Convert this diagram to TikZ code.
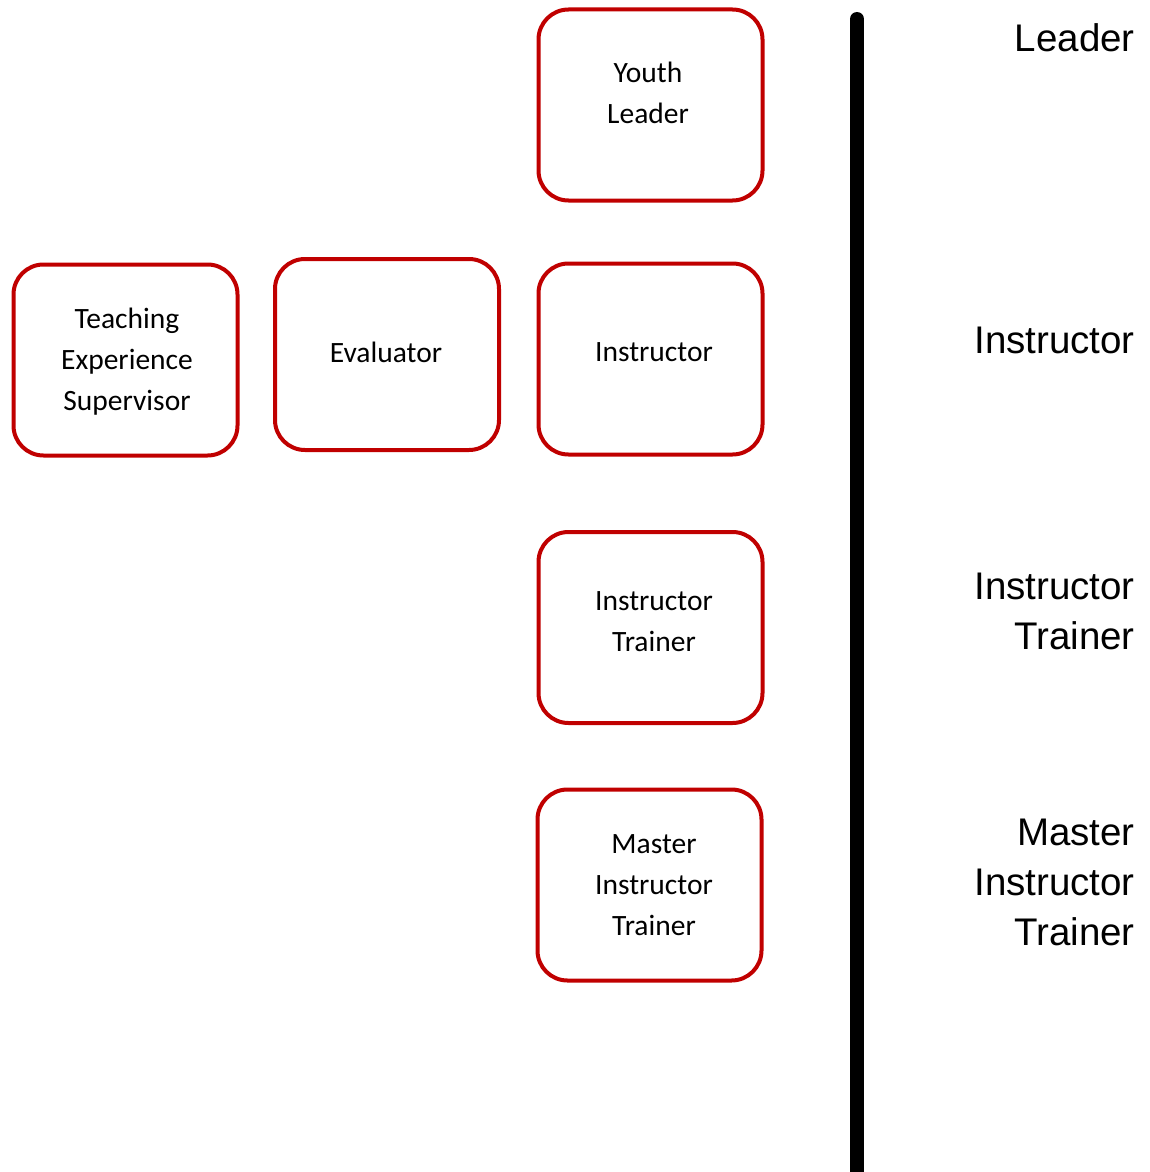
\documentclass[tikz,border=0pt]{standalone}
\usepackage{fontspec}
\setmainfont{Carlito}
\newfontfamily\labfont{Liberation Sans}
\definecolor{boxred}{RGB}{192,0,0}
\begin{document}
\begin{tikzpicture}[x=1pt,y=-1pt,
  box/.style={draw=boxred,line width=4pt,rounded corners=30pt,minimum width=224pt,minimum height=191pt,inner sep=0pt,fill=white},
  boxtxt/.style={align=center,font=\fontsize{29.5}{41}\selectfont,inner sep=0pt},
  sidelab/.style={align=right,anchor=east,font=\labfont\fontsize{38.5}{50}\selectfont,inner sep=0pt}]
\useasboundingbox (0,0) rectangle (1150,1172);
% boxes
\node[box] (yl) at (650.5,105) {};
\node[boxtxt] (ylt) at (648,93) {Youth\\Leader};
\node[box] (ins) at (650.5,359) {};
\node[boxtxt] (inst) at (654,352) {Instructor};
\node[box] (it) at (650.5,627.5) {};
\node[boxtxt] (itt) at (654,622) {Instructor\\Trainer};
\node[box] (mit) at (649.5,885) {};
\node[boxtxt] (mitt) at (654,885) {Master\\Instructor\\Trainer};
\node[box] (ev) at (387,354.5) {};
\node[boxtxt] (evt) at (386,352) {Evaluator};
\node[box] (tes) at (125.5,360) {};
\node[boxtxt] (test) at (127,362) {Teaching\\Experience\\Supervisor};
% vertical bar
\coordinate (bartop) at (857,19);
\coordinate (barbot) at (857,1172);
\draw[line width=14pt,line cap=round] (bartop) -- (barbot);
% side labels
\node[sidelab] (l1) at (1135,38) {Leader};
\node[sidelab] (l2) at (1135,340) {Instructor};
\node[sidelab] (l3) at (1135,611) {Instructor\\Trainer};
\node[sidelab] (l4) at (1135,882) {Master\\Instructor\\Trainer};
\end{tikzpicture}
\end{document}
